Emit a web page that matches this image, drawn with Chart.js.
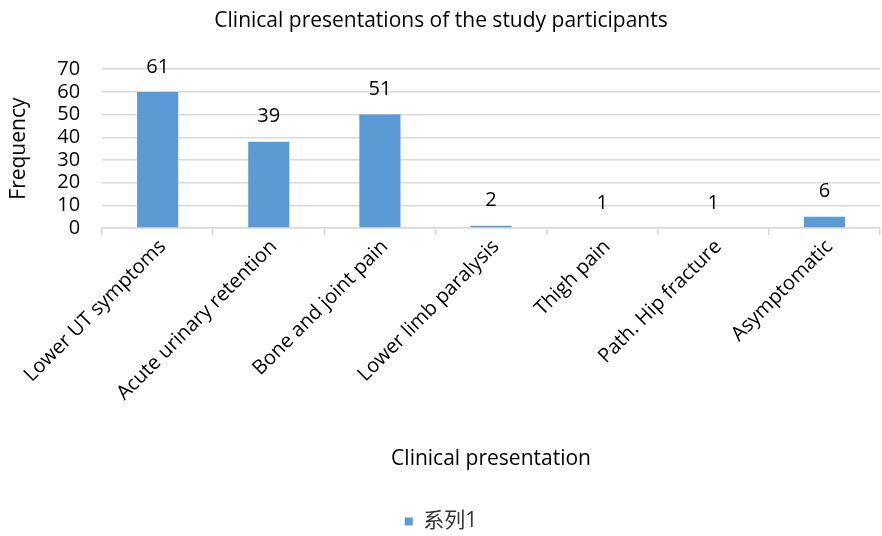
<!DOCTYPE html>
<html>
<head>
<meta charset="utf-8">
<script src="https://cdn.jsdelivr.net/npm/chart.js@4/dist/chart.umd.min.js"></script>
<style>
  html, body { margin: 0; padding: 0; background: #fff; }
  #wrap { width: 882px; height: 536px; }
</style>
</head>
<body>
<div id="wrap"><canvas id="presentationChart" width="882" height="536"></canvas></div>
<script>
// categories and values
const categories = ['Lower UT symptoms', 'Acute urinary retention', 'Bone and joint pain',
  'Lower limb paralysis', 'Thigh pain', 'Path. Hip fracture', 'Asymptomatic'];
// bar heights as drawn
const barValues = [60, 38, 50, 1, 0, 0, 5];
// numbers printed above the bars
const labelValues = [61, 39, 51, 2, 1, 1, 6];
const yTicks = [0, 10, 20, 30, 40, 50, 60, 70];

const FONT = "'Open Sans', 'Noto Sans CJK SC', sans-serif";

// draws the printed numbers above each bar
const barLabels = {
  id: 'barLabels',
  afterDatasetsDraw(chart) {
    const ctx = chart.ctx;
    const meta = chart.getDatasetMeta(0);
    ctx.save();
    ctx.font = '20px ' + FONT;
    ctx.fillStyle = '#000';
    ctx.textAlign = 'center';
    ctx.textBaseline = 'middle';
    meta.data.forEach(function (bar, i) {
      ctx.fillText(String(labelValues[i]), bar.x, bar.y - 25);
    });
    ctx.restore();
  }
};

new Chart(document.getElementById('presentationChart'), {
  type: 'bar',
  data: {
    labels: categories,
    datasets: [{
      label: '系列1',
      data: barValues,
      backgroundColor: '#5b9bd5',
      barPercentage: 0.37,
      categoryPercentage: 1
    }]
  },
  options: {
    responsive: false,
    animation: false,
    layout: { padding: { left: 2, right: 2, top: 0, bottom: -6 } },
    plugins: {
      title: {
        display: true,
        text: 'Clinical presentations of the study participants',
        color: '#000',
        font: { family: FONT, size: 21, weight: 'normal' },
        padding: { top: 8, bottom: 36 }
      },
      legend: {
        position: 'bottom',
        labels: {
          color: '#333',
          font: { family: FONT, size: 21 },
          boxWidth: 8,
          boxHeight: 8,
          padding: 3
        }
      },
      tooltip: { enabled: false }
    },
    scales: {
      x: {
        // x axis box is taller than Chart.js allows by default, so set it here
        afterFit(scale) { scale.height = 280; },
        grid: { display: true, drawOnChartArea: false, offset: true, tickLength: 7, color: '#d9d9d9', lineWidth: 1.5 },
        border: { color: '#d9d9d9', width: 1.5 },
        ticks: { color: '#000', font: { family: FONT, size: 20 }, minRotation: 45, maxRotation: 45, padding: 0, labelOffset: 5 },
        title: {
          display: true,
          text: 'Clinical presentation',
          color: '#000',
          font: { family: FONT, size: 21 },
          padding: { top: 10, bottom: 36 }
        }
      },
      y: {
        min: 0,
        max: 70,
        afterBuildTicks(axis) { axis.ticks = yTicks.map(v => ({ value: v })); },
        grid: { color: '#d9d9d9', lineWidth: 1.5, drawTicks: false },
        border: { display: false },
        ticks: { color: '#000', font: { family: FONT, size: 20 }, padding: 22, autoSkip: false },
        title: {
          display: true,
          text: 'Frequency',
          color: '#000',
          font: { family: FONT, size: 21 },
          padding: { bottom: 4 }
        }
      }
    }
  },
  plugins: [barLabels]
});
</script>
</body>
</html>
